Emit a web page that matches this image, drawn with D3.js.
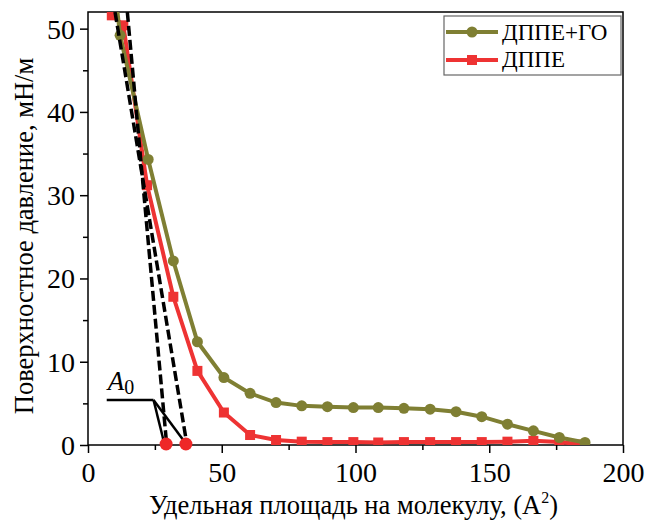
<!DOCTYPE html>
<html><head><meta charset="utf-8">
<script src="https://cdn.jsdelivr.net/npm/d3@7"></script>
</head><body style="margin:0;background:#fff"><svg id="c" width="647" height="520" font-family="Liberation Serif"></svg>
<script>
const seriesNames = ["ДППЕ+ГО", "ДППЕ"];
const greenX = [10.3, 12.0, 22.5, 31.9, 40.9, 50.8, 60.6, 70.3, 79.9, 89.5, 99.2, 108.5, 118.1, 127.9, 137.6, 147.2, 156.8, 166.5, 176.2, 185.8];
const greenY = [54.0, 49.2, 34.3, 22.1, 12.4, 8.1, 6.2, 5.1, 4.7, 4.6, 4.5, 4.5, 4.4, 4.3, 4.0, 3.4, 2.5, 1.7, 0.9, 0.3];
const redX = [8.9, 13.2, 22.1, 31.9, 40.9, 50.8, 60.6, 70.3, 79.9, 89.5, 99.2, 108.5, 118.1, 127.9, 137.6, 147.2, 156.8, 166.5, 176.2, 185.0];
const redY = [51.6, 50.4, 31.2, 17.8, 8.9, 3.9, 1.2, 0.6, 0.4, 0.35, 0.35, 0.3, 0.35, 0.35, 0.35, 0.35, 0.4, 0.5, 0.35, 0.05];
const tangentTop = [[10.1, 52.0], [14.7, 52.0]];
const a0Values = [36.6, 29.2];
const xTicks = [0, 50, 100, 150, 200];
const yTicks = [0, 10, 20, 30, 40, 50];
const xLabel = "Удельная площадь на молекулу, (A";
const yLabel = "Поверхностное давление, мН/м";

const FONT = "Liberation Serif";
const green = "#7f7f33", red = "#ee3333";
const svg = d3.select("#c");
const L = 88, R = 623, T = 12, B = 445;
const x = d3.scaleLinear().domain([0, 200]).range([L, R]);
const y = d3.scaleLinear().domain([0, 52]).range([B, T]);

svg.append("defs").append("clipPath").attr("id", "clip")
  .append("rect").attr("x", L).attr("y", T).attr("width", R - L).attr("height", B - T);

const xAxis = d3.axisBottom(x).tickValues(xTicks).tickSize(8).tickPadding(9).tickFormat(d3.format("d"));
const gx = svg.append("g").attr("transform", `translate(0,${B})`).call(xAxis);
const xMinor = d3.axisBottom(x).tickValues(d3.range(25, 200, 50)).tickSize(5).tickFormat("");
svg.append("g").attr("transform", `translate(0,${B})`).call(xMinor);
const yAxis = d3.axisLeft(y).tickValues(yTicks).tickSize(8).tickPadding(5).tickFormat(d3.format("d"));
const gy = svg.append("g").attr("transform", `translate(${L},0)`).call(yAxis);
const yMinor = d3.axisLeft(y).tickValues(d3.range(5, 52, 10)).tickSize(5).tickFormat("");
svg.append("g").attr("transform", `translate(${L},0)`).call(yMinor);
svg.selectAll("g").attr("font-family", FONT).attr("font-size", 28);
svg.selectAll(".domain").remove();
svg.selectAll(".tick line").attr("stroke", "#000").attr("stroke-width", 1.5);
svg.selectAll(".tick text").attr("font-family", FONT).attr("font-size", 28).attr("fill", "#000");
gy.selectAll(".tick text").attr("dy", "0.34em");

svg.append("rect").attr("x", L).attr("y", T).attr("width", R - L).attr("height", B - T)
  .attr("fill", "none").attr("stroke", "#000").attr("stroke-width", 1.5);

const xt = svg.append("text").attr("x", (L + R) / 2 - 2).attr("y", 514).attr("text-anchor", "middle")
  .attr("font-family", FONT).attr("font-size", 26.5);
xt.append("tspan").text(xLabel);
xt.append("tspan").text("2").attr("font-size", 16).attr("dy", "-11");
xt.append("tspan").text(")").attr("dy", "11");
svg.append("text").attr("transform", `translate(33,236) rotate(-90)`)
  .attr("text-anchor", "middle").attr("font-family", FONT).attr("font-size", 26.5).text(yLabel);

const plot = svg.append("g").attr("clip-path", "url(#clip)");
const line = d3.line().x(d => x(d[0])).y(d => y(d[1]));
const redData = redX.map((v, i) => [v, redY[i]]);
const greenData = greenX.map((v, i) => [v, greenY[i]]);

plot.append("path").datum(redData).attr("d", line).attr("fill", "none").attr("stroke", red).attr("stroke-width", 4);
plot.selectAll(".rs").data(redData).enter().append("rect")
  .attr("x", d => x(d[0]) - 5).attr("y", d => y(d[1]) - 5).attr("width", 10).attr("height", 10).attr("fill", red);
plot.append("path").datum(greenData).attr("d", line).attr("fill", "none").attr("stroke", green).attr("stroke-width", 4);
plot.selectAll(".gc").data(greenData).enter().append("circle")
  .attr("cx", d => x(d[0])).attr("cy", d => y(d[1])).attr("r", 5.5).attr("fill", green);

tangentTop.forEach((t, i) => {
  plot.append("line").attr("x1", x(t[0])).attr("y1", y(t[1])).attr("x2", x(a0Values[i])).attr("y2", y(0.8))
    .attr("stroke", "#000").attr("stroke-width", 3.5).attr("stroke-dasharray", "10,4");
});

const lx0 = x(7), lx1 = x(24.5), ly = y(5.4);
svg.append("path").attr("d", `M${lx0},${ly}H${lx1}`).attr("stroke", "#000").attr("stroke-width", 2.5).attr("fill", "none");
a0Values.forEach(v => {
  svg.append("line").attr("x1", lx1).attr("y1", ly).attr("x2", x(v - 1)).attr("y2", y(0.6))
    .attr("stroke", "#000").attr("stroke-width", 2.5);
});
const at = svg.append("text").attr("x", lx0 + 1).attr("y", y(6.6)).attr("font-family", FONT).attr("font-size", 27);
at.append("tspan").text("A").attr("font-style", "italic");
at.append("tspan").text("0").attr("font-size", 20).attr("dy", 4);

a0Values.forEach(v => {
  svg.append("circle").attr("cx", x(v)).attr("cy", y(0) - 1).attr("r", 6.5).attr("fill", "#ee2828");
});

const lg = svg.append("g");
lg.append("rect").attr("x", 444).attr("y", 16).attr("width", 177).attr("height", 59)
  .attr("fill", "#fff").attr("stroke", "#666").attr("stroke-width", 1.2);
[[green, "circle", 32, 39.5], [red, "rect", 60, 67]].forEach((e, i) => {
  lg.append("line").attr("x1", 446).attr("x2", 498).attr("y1", e[2]).attr("y2", e[2]).attr("stroke", e[0]).attr("stroke-width", 4);
  if (e[1] === "circle") lg.append("circle").attr("cx", 472).attr("cy", e[2]).attr("r", 5.5).attr("fill", e[0]);
  else lg.append("rect").attr("x", 467).attr("y", e[2] - 5).attr("width", 10).attr("height", 10).attr("fill", e[0]);
  lg.append("text").attr("x", 502).attr("y", e[3]).attr("font-family", FONT).attr("font-size", 23).text(seriesNames[i]);
});
</script></body></html>
